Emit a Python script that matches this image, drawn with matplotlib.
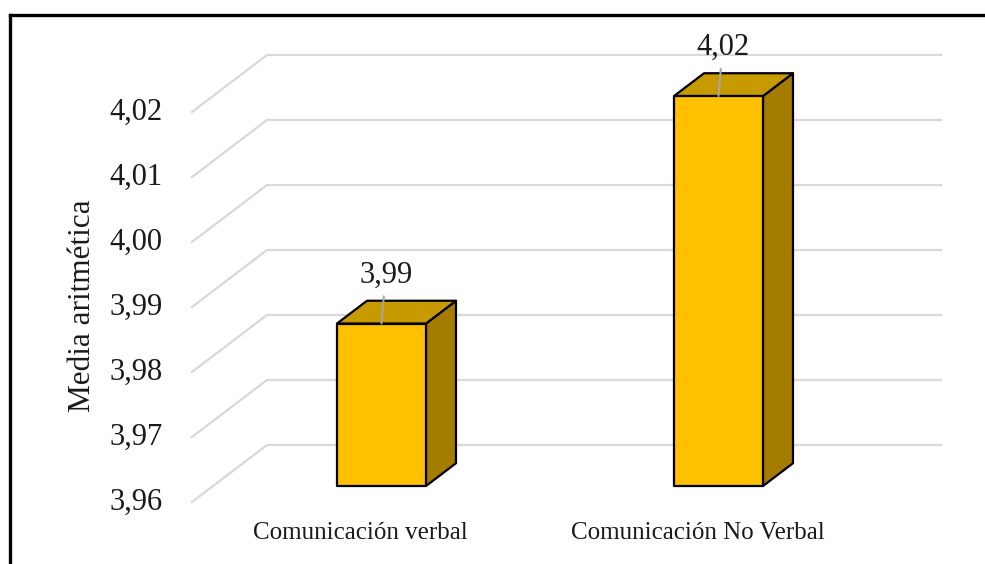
import matplotlib
matplotlib.use("Agg")
import matplotlib.pyplot as plt
from matplotlib.patches import Polygon
from matplotlib.lines import Line2D

# datos
categorias = ["Comunicación verbal", "Comunicación No Verbal"]
valores = [3.985, 4.02]
etiquetas = ["3,99", "4,02"]
ticks = [3.96, 3.97, 3.98, 3.99, 4.00, 4.01, 4.02]

# perspectiva (pared del fondo -> frente)
DX = 0.2226    # desplazamiento x por profundidad completa (unidades de datos)
DY = 0.00877   # desplazamiento y por profundidad completa
D_FRENTE = 0.72
D_FONDO = 0.32
ANCHO = 0.264

C_FRENTE = "#FFC000"
C_TOPE = "#C79A00"
C_LADO = "#A37C00"
C_GRID = "#D9D9D9"

plt.rcParams["font.family"] = ["Liberation Serif", "DejaVu Serif"]

fig = plt.figure(figsize=(9.85, 5.64), dpi=100)
ax = fig.add_axes([267 / 985, (564 - 445) / 564, 674 / 985, 390 / 564])
ax.set_xlim(0, 2)
ax.set_ylim(ticks[0], ticks[-1])
ax.axis("off")


def proy(x, y, d):
    # proyeccion oblicua: d=0 pared del fondo, d=1 frente
    return (x - d * DX, y - d * DY)


# lineas de cuadricula
for v in ticks:
    p0 = proy(0, v, 1)
    p1 = proy(0, v, 0)
    ax.plot([p0[0], p1[0], 2], [p0[1], p1[1], v], color=C_GRID, lw=1.6,
            clip_on=False, zorder=1, solid_joinstyle="miter")
    ax.annotate(f"{v:.2f}".replace(".", ","), xy=p0, xytext=(-21, 0),
                textcoords="offset points", ha="right", va="center",
                fontsize=22, color="#1a1a1a", annotation_clip=False)

# barras 3D
for i, (val, lab) in enumerate(zip(valores, etiquetas)):
    xc = i + 0.5
    x0, x1 = xc - ANCHO / 2, xc + ANCHO / 2
    y0 = ticks[0]
    lado = [proy(x1, y0, D_FRENTE), proy(x1, y0, D_FONDO),
            proy(x1, val, D_FONDO), proy(x1, val, D_FRENTE)]
    tope = [proy(x0, val, D_FRENTE), proy(x1, val, D_FRENTE),
            proy(x1, val, D_FONDO), proy(x0, val, D_FONDO)]
    frente = [proy(x0, y0, D_FRENTE), proy(x1, y0, D_FRENTE),
              proy(x1, val, D_FRENTE), proy(x0, val, D_FRENTE)]
    for pts, col in [(lado, C_LADO), (tope, C_TOPE), (frente, C_FRENTE)]:
        ax.add_patch(Polygon(pts, closed=True, facecolor=col, edgecolor="black",
                             lw=1.6, joinstyle="round", clip_on=False, zorder=3))

    # etiqueta de datos con linea guia
    ax.annotate(lab, xy=proy(xc, val, D_FRENTE), xytext=(3, 35),
                textcoords="offset points", ha="center", va="center",
                fontsize=22, color="#1a1a1a", annotation_clip=False, zorder=5,
                arrowprops=dict(arrowstyle="-", color="#A6A6A6", lw=1.5,
                                shrinkA=3, shrinkB=0))

    # etiqueta de categoria
    ax.annotate(categorias[i], xy=proy(xc, y0, 1), xytext=(0, -22),
                textcoords="offset points", ha="center", va="center",
                fontsize=18, color="#1a1a1a", annotation_clip=False)

fig.text(83 / 985, 1 - 306 / 564, "Media aritmética", rotation=90,
         ha="center", va="center", fontsize=22.5, color="#1a1a1a")

# marco exterior (solo arriba e izquierda visibles)
fig.add_artist(Line2D([9.5 / 985, 1], [1 - 14.5 / 564, 1 - 14.5 / 564],
                      color="black", lw=2.4, transform=fig.transFigure))
fig.add_artist(Line2D([9.5 / 985, 9.5 / 985], [0, 1 - 14.5 / 564],
                      color="black", lw=2.4, transform=fig.transFigure))

fig.savefig("out.png", dpi=100)
